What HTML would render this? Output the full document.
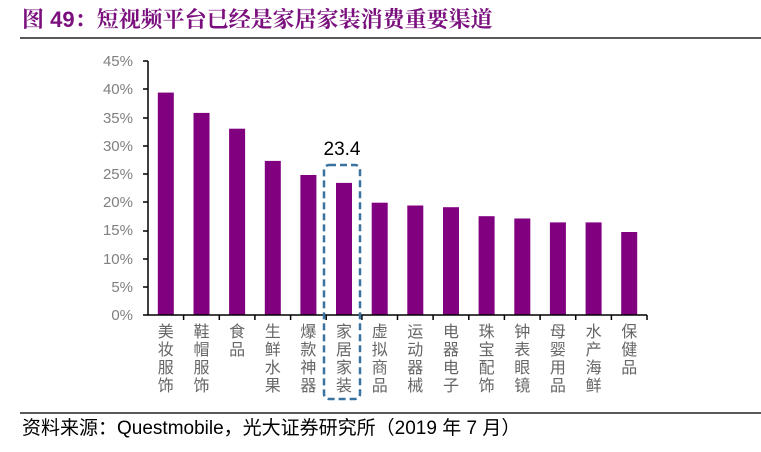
<!DOCTYPE html><html><head><meta charset="utf-8"><style>
body{margin:0;width:761px;height:447px;background:#fff;overflow:hidden;font-family:"Liberation Sans","Noto Sans CJK SC",sans-serif}
</style></head><body>
<svg width="761" height="447" xmlns="http://www.w3.org/2000/svg" font-family="Liberation Sans, Noto Sans CJK SC, sans-serif">
<text x="22" y="27" font-size="22" font-weight="bold" fill="#7a0f7d" font-family="Liberation Sans, Noto Serif CJK SC, serif">图 49：短视频平台已经是家居家装消费重要渠道</text>
<line x1="20" y1="38" x2="761" y2="38" stroke="#222" stroke-width="1.5"/>
<g fill="#808080" font-size="15" text-anchor="end">
<text x="133" y="320">0%</text><text x="133" y="292">5%</text><text x="133" y="264">10%</text><text x="133" y="235">15%</text><text x="133" y="207">20%</text><text x="133" y="179">25%</text><text x="133" y="151">30%</text><text x="133" y="123">35%</text><text x="133" y="94">40%</text><text x="133" y="66">45%</text>
</g>
<g fill="#800080">
<rect x="157.8" y="92.6" width="16" height="222.4"/>
<rect x="193.5" y="112.9" width="16" height="202.1"/>
<rect x="229.1" y="128.7" width="16" height="186.3"/>
<rect x="264.8" y="160.9" width="16" height="154.1"/>
<rect x="300.4" y="175.0" width="16" height="140.0"/>
<rect x="336.0" y="182.9" width="16" height="132.1"/>
<rect x="371.7" y="202.7" width="16" height="112.3"/>
<rect x="407.3" y="205.5" width="16" height="109.5"/>
<rect x="443.0" y="207.2" width="16" height="107.8"/>
<rect x="478.6" y="216.2" width="16" height="98.8"/>
<rect x="514.3" y="218.5" width="16" height="96.5"/>
<rect x="549.9" y="222.4" width="16" height="92.6"/>
<rect x="585.6" y="222.4" width="16" height="92.6"/>
<rect x="621.2" y="232.0" width="16" height="83.0"/>
</g>
<g stroke="#000" stroke-width="1.5">
<line x1="148" y1="61" x2="148" y2="315"/><line x1="148" y1="315" x2="647" y2="315"/>
<line x1="143" y1="61" x2="148" y2="61"/><line x1="143" y1="89" x2="148" y2="89"/><line x1="143" y1="118" x2="148" y2="118"/><line x1="143" y1="146" x2="148" y2="146"/><line x1="143" y1="174" x2="148" y2="174"/><line x1="143" y1="202" x2="148" y2="202"/><line x1="143" y1="231" x2="148" y2="231"/><line x1="143" y1="259" x2="148" y2="259"/><line x1="143" y1="287" x2="148" y2="287"/><line x1="143" y1="315" x2="148" y2="315"/>
<line x1="183.6" y1="315" x2="183.6" y2="320"/><line x1="219.3" y1="315" x2="219.3" y2="320"/><line x1="254.9" y1="315" x2="254.9" y2="320"/><line x1="290.6" y1="315" x2="290.6" y2="320"/><line x1="326.2" y1="315" x2="326.2" y2="320"/><line x1="361.9" y1="315" x2="361.9" y2="320"/><line x1="397.5" y1="315" x2="397.5" y2="320"/><line x1="433.1" y1="315" x2="433.1" y2="320"/><line x1="468.8" y1="315" x2="468.8" y2="320"/><line x1="504.4" y1="315" x2="504.4" y2="320"/><line x1="540.1" y1="315" x2="540.1" y2="320"/><line x1="575.7" y1="315" x2="575.7" y2="320"/><line x1="611.4" y1="315" x2="611.4" y2="320"/><line x1="647" y1="315" x2="647" y2="320"/>
</g>
<g fill="#666" font-size="16" text-anchor="middle">
<text x="165.8" y="337">美</text><text x="165.8" y="355">妆</text><text x="165.8" y="373">服</text><text x="165.8" y="391">饰</text>
<text x="201.5" y="337">鞋</text><text x="201.5" y="355">帽</text><text x="201.5" y="373">服</text><text x="201.5" y="391">饰</text>
<text x="237.1" y="337">食</text><text x="237.1" y="355">品</text>
<text x="272.8" y="337">生</text><text x="272.8" y="355">鲜</text><text x="272.8" y="373">水</text><text x="272.8" y="391">果</text>
<text x="308.4" y="337">爆</text><text x="308.4" y="355">款</text><text x="308.4" y="373">神</text><text x="308.4" y="391">器</text>
<text x="344.0" y="337">家</text><text x="344.0" y="355">居</text><text x="344.0" y="373">家</text><text x="344.0" y="391">装</text>
<text x="379.7" y="337">虚</text><text x="379.7" y="355">拟</text><text x="379.7" y="373">商</text><text x="379.7" y="391">品</text>
<text x="415.3" y="337">运</text><text x="415.3" y="355">动</text><text x="415.3" y="373">器</text><text x="415.3" y="391">械</text>
<text x="451.0" y="337">电</text><text x="451.0" y="355">器</text><text x="451.0" y="373">电</text><text x="451.0" y="391">子</text>
<text x="486.6" y="337">珠</text><text x="486.6" y="355">宝</text><text x="486.6" y="373">配</text><text x="486.6" y="391">饰</text>
<text x="522.3" y="337">钟</text><text x="522.3" y="355">表</text><text x="522.3" y="373">眼</text><text x="522.3" y="391">镜</text>
<text x="557.9" y="337">母</text><text x="557.9" y="355">婴</text><text x="557.9" y="373">用</text><text x="557.9" y="391">品</text>
<text x="593.6" y="337">水</text><text x="593.6" y="355">产</text><text x="593.6" y="373">海</text><text x="593.6" y="391">鲜</text>
<text x="629.2" y="337">保</text><text x="629.2" y="355">健</text><text x="629.2" y="373">品</text>
</g>
<rect x="324" y="165" width="36" height="234" rx="5" fill="none" stroke="#3a73a0" stroke-width="2.5" stroke-dasharray="7,4"/>
<text x="342" y="155" font-size="19" text-anchor="middle" fill="#000">23.4</text>
<line x1="20" y1="413" x2="761" y2="413" stroke="#222" stroke-width="1.5"/>
<text x="22" y="434" font-size="19" fill="#000">资料来源：Questmobile，光大证券研究所（2019 年 7 月）</text>
</svg></body></html>
